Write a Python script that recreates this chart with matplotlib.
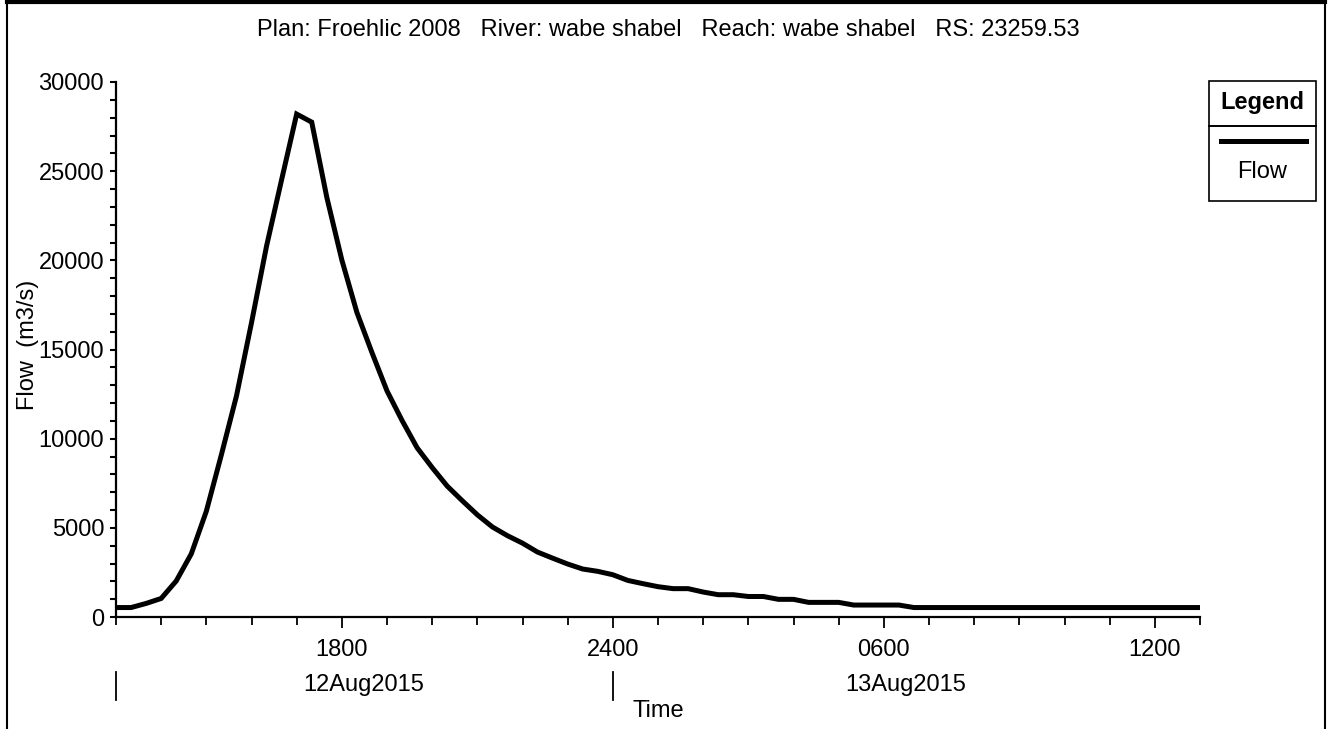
import matplotlib
matplotlib.use('Agg')
import matplotlib.pyplot as plt
import matplotlib.dates as mdates
from matplotlib.lines import Line2D
from matplotlib.patches import Rectangle
from matplotlib.ticker import FuncFormatter
from datetime import datetime, timedelta

FONT = ['Liberation Sans Narrow', 'Liberation Sans', 'DejaVu Sans']
plt.rcParams['font.family'] = FONT

# hydrograph, 20 minute steps from 12Aug2015 1300
START = datetime(2015, 8, 12, 13, 0)
STEP_MIN = 20
flow = [530, 530, 760, 1040, 2020, 3540, 5930, 9100, 12390, 16500,
        20800, 24520, 28200, 27750, 23540, 20020, 17080, 14830, 12680, 11020,
        9490, 8380, 7340, 6520, 5730, 5050, 4560, 4140, 3640, 3300,
        2970, 2690, 2560, 2370, 2050, 1870, 1700, 1590, 1590, 1400,
        1250, 1250, 1150, 1150, 990, 990, 820, 820, 820, 670,
        670, 670, 670, 530] + [530] * 19
times = [START + timedelta(minutes=STEP_MIN * i) for i in range(len(flow))]

major_hours = [datetime(2015, 8, 12, 18), datetime(2015, 8, 13, 0),
               datetime(2015, 8, 13, 6), datetime(2015, 8, 13, 12)]
day_labels = ['12Aug2015', '13Aug2015']
day_label_at = [datetime(2015, 8, 12, 18), datetime(2015, 8, 13, 6)]
day_breaks = [datetime(2015, 8, 12, 13), datetime(2015, 8, 13, 0)]

W, H = 1333, 729
fig = plt.figure(figsize=(W / 100, H / 100), dpi=100)
ax = fig.add_axes([116 / W, (H - 617) / H, (1200 - 116) / W, (617 - 82) / H])

ax.plot(times, flow, color='black', lw=3.6, solid_joinstyle='miter', label='Flow')

ax.set_xlim(times[0], times[-1])
ax.set_ylim(0, 30000)
ax.set_yticks(range(0, 30001, 5000))
ax.set_yticks(range(0, 30001, 1000), minor=True)

ax.xaxis.set_major_locator(mdates.HourLocator(byhour=[0, 6, 12, 18]))
ax.xaxis.set_minor_locator(mdates.HourLocator())


def hhmm(x, pos):
    d = mdates.num2date(x)
    if d.hour == 0 and d.minute == 0:
        return '2400'
    return d.strftime('%H%M')


ax.xaxis.set_major_formatter(FuncFormatter(hhmm))

for s in ['top', 'right']:
    ax.spines[s].set_visible(False)
for s in ['left', 'bottom']:
    ax.spines[s].set_linewidth(1.6)

ax.tick_params(axis='y', which='both', direction='out', length=4.5, width=1.5,
               pad=4, labelsize=17)
ax.tick_params(axis='x', which='major', direction='out', length=8, width=1.3,
               pad=8, labelsize=17)
ax.tick_params(axis='x', which='minor', direction='out', length=6, width=1.3)

xt = ax.get_xaxis_transform()
for lab, d in zip(day_labels, day_label_at):
    ax.text(d + timedelta(minutes=29), -0.127, lab, transform=xt, ha='center',
            va='center', fontsize=17, clip_on=False)
for d in day_breaks:
    ax.plot([d, d], [-0.103, -0.155], transform=xt, color='black', lw=1.3,
            clip_on=False)
ax.text(datetime(2015, 8, 13, 1), -0.175, 'Time', transform=xt, ha='center',
        va='center', fontsize=17, clip_on=False)

fig.text(28 / W, 1 - 345 / H, 'Flow  (m3/s)', rotation=90, ha='center',
         va='center', fontsize=17)

fig.text(668 / W, 1 - 30 / H,
         'Plan: Froehlic 2008   River: wabe shabel   Reach: wabe shabel   RS: 23259.53',
         ha='center', va='center', fontsize=17)

# outer frame
fig.add_artist(Line2D([7 / W, 7 / W], [0, 1 - 2 / H], color='black', lw=1.5))
fig.add_artist(Line2D([1325 / W, 1325 / W], [0, 1 - 2 / H], color='black', lw=1.5))
fig.add_artist(Line2D([7 / W, 1325 / W], [1 - 2 / H, 1 - 2 / H], color='black', lw=3))

# legend box
lx0, lx1, ly0, ly1 = 1209, 1316, 81, 201
fig.add_artist(Rectangle((lx0 / W, 1 - ly1 / H), (lx1 - lx0) / W, (ly1 - ly0) / H,
                         fill=False, edgecolor='black', lw=1.2))
fig.add_artist(Line2D([lx0 / W, lx1 / W], [1 - 126 / H, 1 - 126 / H],
                      color='black', lw=1.4))
fig.text((lx0 + lx1) / 2 / W, 1 - 103 / H, 'Legend', ha='center', va='center',
         fontsize=17, fontweight='bold')
fig.add_artist(Line2D([1221 / W, 1306 / W], [1 - 141 / H, 1 - 141 / H],
                      color='black', lw=3.6))
fig.text((lx0 + lx1) / 2 / W, 1 - 172 / H, 'Flow', ha='center', va='center',
         fontsize=17)

fig.savefig('out.png', dpi=100)
